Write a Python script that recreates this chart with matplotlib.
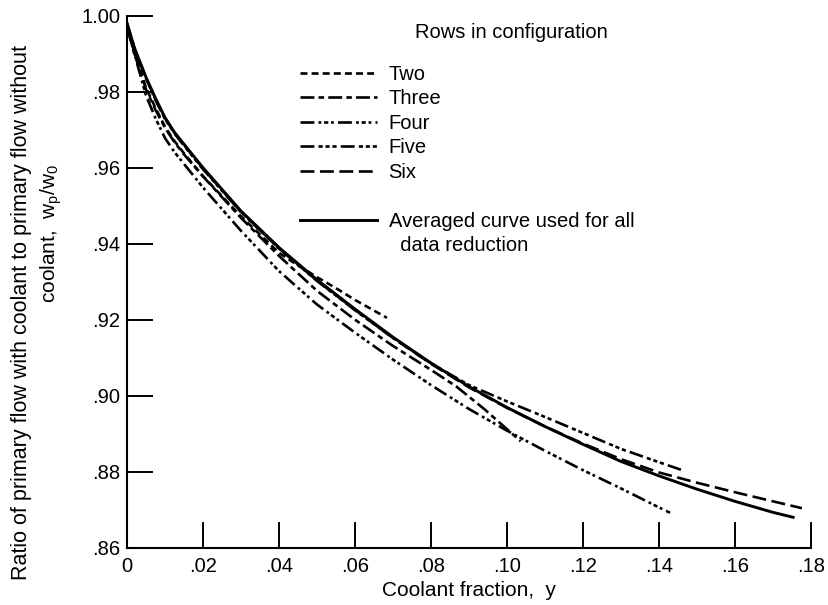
import matplotlib
matplotlib.use("Agg")
import matplotlib.pyplot as plt
from matplotlib.lines import Line2D

plt.rcParams["font.family"] = ["Liberation Sans", "DejaVu Sans"]
plt.rcParams["lines.scale_dashes"] = False

# ---- data ----
# averaged curve
avg_x = [0, 0.002, 0.005, 0.0075, 0.01, 0.0125, 0.015, 0.02, 0.03, 0.04, 0.05,
         0.06, 0.07, 0.08, 0.09, 0.10, 0.11, 0.12, 0.13, 0.14, 0.15, 0.16, 0.17,
         0.1753]
avg_y = [0.998, 0.9914, 0.9838, 0.9783, 0.9732, 0.9693, 0.9662, 0.9600, 0.9486,
         0.9390, 0.9305, 0.9228, 0.9154, 0.9086, 0.9024, 0.8969, 0.8919, 0.8872,
         0.8827, 0.8789, 0.8754, 0.8722, 0.8693, 0.8680]

# two rows
two_x = [0, 0.002, 0.005, 0.0075, 0.01, 0.0125, 0.015, 0.02, 0.03, 0.04, 0.045,
         0.05, 0.055, 0.06, 0.0684]
two_y = [0.997, 0.9898, 0.9811, 0.9757, 0.9708, 0.9670, 0.9638, 0.9578, 0.9472,
         0.9376, 0.9343, 0.9312, 0.9283, 0.9252, 0.9205]

# three rows
three_x = [0, 0.002, 0.005, 0.0075, 0.01, 0.0125, 0.015, 0.02, 0.03, 0.04, 0.05,
           0.06, 0.07, 0.08, 0.0867, 0.094, 0.1036]
three_y = [0.997, 0.9903, 0.9806, 0.9752, 0.9705, 0.9667, 0.9635, 0.9577, 0.9468,
           0.9368, 0.9276, 0.9200, 0.9131, 0.9068, 0.9024, 0.8965, 0.8880]

# four rows
four_x = [0, 0.002, 0.005, 0.0075, 0.01, 0.0125, 0.015, 0.02, 0.03, 0.04, 0.05,
          0.06, 0.07, 0.08, 0.09, 0.10, 0.11, 0.12, 0.13, 0.14, 0.1429]
four_y = [0.997, 0.9898, 0.9790, 0.9730, 0.9678, 0.9641, 0.9610, 0.9548, 0.9434,
          0.9328, 0.9240, 0.9166, 0.9095, 0.9028, 0.8965, 0.8908, 0.8855, 0.8804,
          0.8756, 0.8706, 0.8692]

# five rows
five_x = [0, 0.002, 0.005, 0.0075, 0.01, 0.0125, 0.015, 0.02, 0.03, 0.04, 0.05,
          0.06, 0.07, 0.08, 0.09, 0.10, 0.11, 0.12, 0.13, 0.14, 0.1464]
five_y = [0.998, 0.9912, 0.9835, 0.9778, 0.9728, 0.9690, 0.9658, 0.9596, 0.9483,
          0.9387, 0.9302, 0.9225, 0.9152, 0.9085, 0.9028, 0.8985, 0.8944, 0.8902,
          0.8860, 0.8825, 0.8803]

# six rows
six_x = [0, 0.002, 0.005, 0.0075, 0.01, 0.0125, 0.015, 0.02, 0.03, 0.04, 0.05,
         0.06, 0.07, 0.08, 0.09, 0.10, 0.11, 0.12, 0.13, 0.14, 0.15, 0.16, 0.17,
         0.1776]
six_y = [0.998, 0.9913, 0.9836, 0.9780, 0.9730, 0.9692, 0.9660, 0.9598, 0.9484,
         0.9388, 0.9303, 0.9226, 0.9152, 0.9084, 0.9022, 0.8968, 0.8919, 0.8874,
         0.8833, 0.8798, 0.8771, 0.8746, 0.8722, 0.8704]

x_ticks = [0, 0.02, 0.04, 0.06, 0.08, 0.10, 0.12, 0.14, 0.16, 0.18]
x_labels = ["0", ".02", ".04", ".06", ".08", ".10", ".12", ".14", ".16", ".18"]
y_ticks = [0.86, 0.88, 0.90, 0.92, 0.94, 0.96, 0.98, 1.00]
y_labels = [".86", ".88", ".90", ".92", ".94", ".96", ".98", "1.00"]

fig = plt.figure(figsize=(8.29, 6.05), dpi=100)
ax = fig.add_axes([0.1532, 0.0947, 0.8251, 0.8793])

lw = 1.9
l2, = ax.plot(two_x, two_y, color="k", lw=lw, ls=(0, (5, 3)))
l3, = ax.plot(three_x, three_y, color="k", lw=lw, ls=(0, (10, 3, 4, 3)))
l4, = ax.plot(four_x, four_y, color="k", lw=lw, ls=(0, (10, 3, 2, 2, 3, 2, 2, 3)))
l5, = ax.plot(five_x, five_y, color="k", lw=lw, ls=(0, (10, 3, 3, 2, 3, 2, 3, 3)))
l6, = ax.plot(six_x, six_y, color="k", lw=lw, ls=(0, (10, 4)))
la, = ax.plot(avg_x, avg_y, color="k", lw=2.1)

ax.set_xlim(0, 0.18)
ax.set_ylim(0.86, 1.0)
ax.set_xticks(x_ticks)
ax.set_xticklabels(x_labels)
ax.set_yticks(y_ticks)
ax.set_yticklabels(y_labels)
ax.tick_params(direction="in", length=19, width=1.4, labelsize=14.5)
ax.tick_params(axis="x", pad=7)
ax.tick_params(axis="y", pad=5)
for s in ["top", "right"]:
    ax.spines[s].set_visible(False)
for s in ["left", "bottom"]:
    ax.spines[s].set_linewidth(1.5)

ax.set_xlabel("Coolant fraction,  y", fontsize=15, labelpad=3)

fig.text(22 / 829, 1 - 312 / 605, "Ratio of primary flow with coolant to primary flow without",
         rotation=90, ha="center", va="center", fontsize=15.5)
fig.text(51 / 829, 1 - 233 / 605, r"coolant,  w$_\mathregular{p}$/w$_\mathregular{0}$",
         rotation=90, ha="center", va="center", fontsize=15)

# legend
blank = Line2D([], [], color="none")
handles = [l2, l3, l4, l5, l6, blank, la, blank]
labels = ["Two", "Three", "Four", "Five", "Six", " ",
          "Averaged curve used for all", "  data reduction"]
fig.legend(handles, labels, loc="upper left", bbox_to_anchor=(300 / 829, 1 - 65 / 605),
           bbox_transform=fig.transFigure, frameon=False, fontsize=14.5,
           handlelength=3.8, handletextpad=0.6, labelspacing=0.27,
           borderpad=0, borderaxespad=0)
fig.text(415 / 829, 1 - 32 / 605, "Rows in configuration", ha="left", va="center",
         fontsize=14.5)

fig.savefig("out.png", dpi=100)
